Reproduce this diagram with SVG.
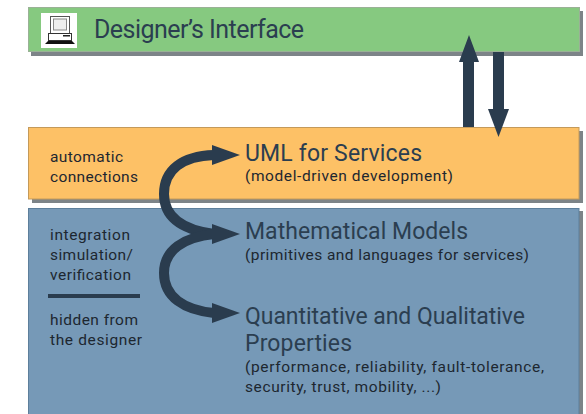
<svg xmlns="http://www.w3.org/2000/svg" width="586" height="414" viewBox="0 0 586 414">
<style>
text{font-family:"Roboto","Liberation Sans",sans-serif;}
.h{font-size:23px;fill:#2b3e50;}
.s{font-size:15.5px;fill:#1d2730;}
.l{font-size:15.5px;fill:#1d2730;}
.shadow{fill:#7d8488;}
.a{fill:#2a3c4e;}
.c{fill:none;stroke:#2a3c4e;stroke-width:10;}
</style>
<rect width="586" height="414" fill="#fff"/>
<g id="designer-interface">
<rect class="shadow" x="31" y="11" width="552" height="45"/>
<rect x="28.5" y="7.5" width="551" height="44" fill="#86c980" stroke="#9ab196" stroke-width="1"/>
<rect x="41" y="13" width="36" height="35" fill="#fff"/>
<rect x="50.5" y="16.5" width="19" height="17" fill="#fff" stroke="#555" stroke-width="1"/>
<rect x="53.5" y="19" width="13" height="11" fill="#eee" stroke="#888" stroke-width="1"/>
<rect x="48.5" y="33.5" width="23" height="7" fill="#fff" stroke="#333" stroke-width="1"/>
<rect x="63" y="35" width="7" height="1.5" fill="#222"/>
<polygon points="48,41 72,41 75,44 45,44" fill="#111"/>
<text x="94" y="38" class="h" style="font-size:25px" textLength="210" lengthAdjust="spacing">Designer’s Interface</text>
</g>
<g id="uml-layer">
<rect class="shadow" x="32" y="131" width="551" height="72"/>
<rect x="28.5" y="127.5" width="550.5" height="71.5" fill="#fdc166" stroke="#c49a5a" stroke-width="1"/>
<text x="50" y="162" class="l" textLength="73" lengthAdjust="spacing">automatic</text>
<text x="50" y="182" class="l" textLength="88" lengthAdjust="spacing">connections</text>
<text x="245" y="161" class="h" textLength="177" lengthAdjust="spacing">UML for Services</text>
<text x="245" y="181" class="s" textLength="208" lengthAdjust="spacing">(model-driven development)</text>
</g>
<g id="models-layer">
<rect class="shadow" x="32" y="211" width="551" height="203"/>
<rect x="28.5" y="208.5" width="550.5" height="206" fill="#7699b7" stroke="#5d7f9b" stroke-width="1"/>
<text x="50" y="240" class="l" textLength="80" lengthAdjust="spacing">integration</text>
<text x="50" y="260" class="l" textLength="83" lengthAdjust="spacing">simulation/</text>
<text x="50" y="280" class="l" textLength="81" lengthAdjust="spacing">verification</text>
<rect x="48" y="294" width="92" height="4" fill="#2a3c4e"/>
<text x="50" y="325" class="l" textLength="88" lengthAdjust="spacing">hidden from</text>
<text x="50" y="345" class="l" textLength="92" lengthAdjust="spacing">the designer</text>
<text x="245" y="239" class="h" textLength="223" lengthAdjust="spacing">Mathematical Models</text>
<text x="245" y="260" class="s" textLength="284" lengthAdjust="spacing">(primitives and languages for services)</text>
<text x="245" y="324" class="h" textLength="280" lengthAdjust="spacing">Quantitative and Qualitative</text>
<text x="245" y="351" class="h" textLength="107" lengthAdjust="spacing">Properties</text>
<text x="245" y="372" class="s" textLength="299" lengthAdjust="spacing">(performance, reliability, fault-tolerance,</text>
<text x="245" y="392" class="s" textLength="196" lengthAdjust="spacing">security, trust, mobility, ...)</text>
</g>
<g id="connectors">
<polygon class="a" points="463,127 463,62 459,62 469,35 479,62 474,62 474,127"/>
<polygon class="a" points="493,52 504,52 504,109 509,109 498.5,137 488,109 493,109"/>
<path class="c" d="M214 155C182 156 164 170 164 194C164 218 184 230 214 234"/>
<path class="c" d="M214 234C184 237 164 250 164 273C164 297 184 310 214 313"/>
<polygon class="a" points="212,145 240,155 212,165"/>
<polygon class="a" points="212,224 240,234 212,244"/>
<polygon class="a" points="212,303 240,313 212,323"/>
</g>
</svg>
